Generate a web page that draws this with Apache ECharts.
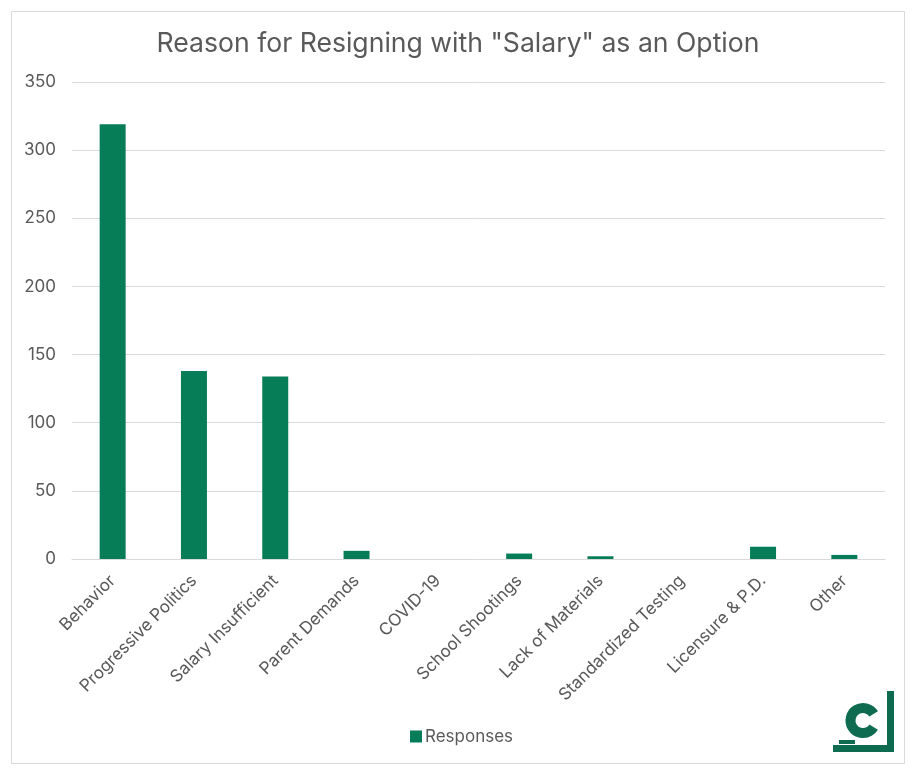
<!DOCTYPE html>
<html lang="en">
<head>
    <meta charset="UTF-8">
    <title>Reason for Resigning</title>
    <script src="https://cdn.jsdelivr.net/npm/echarts@6/dist/echarts.min.js"></script>
    <style>
        html, body { height: 100%; margin: 0; background: #fff; }
        #main { width: 922px; height: 777px; }
    </style>
</head>
<body>
    <div id="main"></div>
    <script>
        var chartTitle = 'Reason for Resigning with "Salary" as an Option';
        var seriesName = 'Responses';
        var categories = ['Behavior', 'Progressive Politics', 'Salary Insufficient', 'Parent Demands', 'COVID-19',
            'School Shootings', 'Lack of Materials', 'Standardized Testing', 'Licensure & P.D.', 'Other'];
        var responses = [319, 138, 134, 6, 0, 4, 2, 0, 9, 3];

        var font = 'Inter';
        var green = '#067D57';
        var logoGreen = '#0E6B50';
        var myChart = echarts.init(document.getElementById('main'));

        myChart.setOption({
            animation: false,
            title: {
                text: chartTitle,
                left: 453,
                top: 25,
                textAlign: 'center',
                textStyle: { fontFamily: font, fontSize: 26.6, fontWeight: 'normal', color: '#595959' }
            },
            legend: {
                data: [seriesName],
                left: 405,
                top: 723,
                itemWidth: 12,
                itemHeight: 12,
                itemGap: 4,
                icon: 'rect',
                textStyle: { fontFamily: font, fontSize: 17, color: '#595959', padding: [0, 0, 0, -2] }
            },
            grid: { left: 72, right: 37, top: 82, bottom: 218 },
            xAxis: {
                type: 'category',
                data: categories,
                axisTick: { show: false },
                axisLine: { lineStyle: { color: '#D9D9D9', width: 1 } },
                axisLabel: {
                    interval: 0,
                    rotate: 45,
                    margin: 19,
                    fontFamily: font,
                    fontSize: 17,
                    color: '#595959'
                }
            },
            yAxis: {
                type: 'value',
                min: 0,
                max: 350,
                interval: 50,
                axisLine: { show: false },
                axisTick: { show: false },
                splitLine: { lineStyle: { color: '#D9D9D9', width: 1 } },
                axisLabel: { margin: 16, fontFamily: font, fontSize: 17, color: '#595959' }
            },
            series: [{
                name: seriesName,
                type: 'bar',
                data: responses,
                barWidth: 26,
                itemStyle: { color: green }
            }],
            graphic: [
                // chart frame
                { type: 'rect', silent: true, z: -1, shape: { x: 11.5, y: 11.5, width: 893, height: 752 },
                  style: { fill: 'none', stroke: '#D9D9D9', lineWidth: 1 } },
                // logo
                { type: 'rect', shape: { x: 887, y: 691, width: 7, height: 61 }, style: { fill: logoGreen } },
                { type: 'rect', shape: { x: 833, y: 745, width: 61, height: 7 }, style: { fill: logoGreen } },
                { type: 'rect', shape: { x: 839, y: 740, width: 16, height: 4 }, style: { fill: logoGreen } },
                { type: 'arc', shape: { cx: 863, cy: 720.5, r: 12.5, startAngle: -0.55, endAngle: 0.55, clockwise: false },
                  style: { fill: 'none', stroke: logoGreen, lineWidth: 10 } }
            ]
        });
    </script>
</body>
</html>
